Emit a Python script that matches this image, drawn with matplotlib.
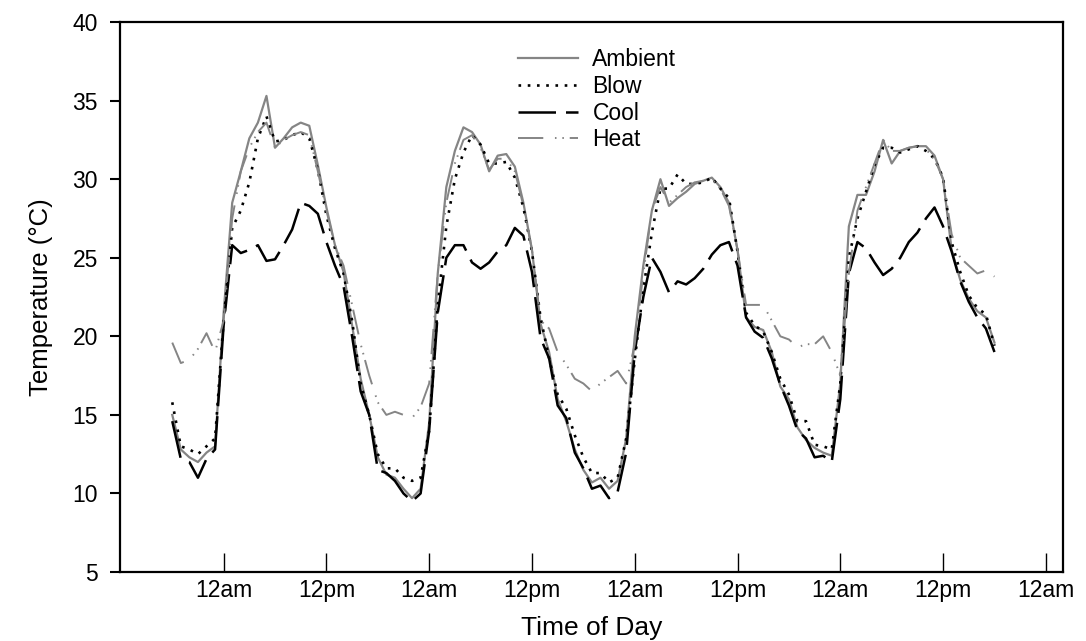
import numpy as np
import matplotlib
matplotlib.use('Agg')
import matplotlib.pyplot as plt

plt.rcParams['font.family'] = ['Liberation Sans', 'DejaVu Sans']

# hours relative to the first midnight, one reading per hour
hours = list(range(-6, 91))

ambient = [
    15.0, 12.8, 12.3, 12.0, 12.6, 13.0,
    21.5, 28.5, 30.5, 32.6, 33.6, 35.3, 32.0, 32.6, 33.3, 33.6, 33.4, 30.9,
    28.2, 25.8, 24.1, 20.7, 17.3, 15.0, 12.3, 11.2, 11.0, 10.3, 9.7, 10.3,
    14.5, 24.0, 29.5, 31.8, 33.3, 33.0, 32.2, 30.5, 31.5, 31.6, 30.8, 28.5,
    25.5, 20.8, 19.0, 16.0, 14.6, 12.8, 11.5, 10.7, 11.0, 10.3, 10.8, 13.5,
    20.0, 24.5, 28.0, 30.0, 28.3, 28.8, 29.2, 29.7, 29.9, 30.1, 29.5, 28.5,
    25.5, 21.2, 20.6, 20.4, 19.0, 16.8, 16.0, 14.2, 13.4, 12.9, 12.6, 12.4,
    17.0, 27.0, 29.0, 29.0, 30.5, 32.5, 31.0, 31.8, 32.0, 32.1, 32.1, 31.5,
    30.0, 25.5, 23.6, 22.4, 21.6, 21.2, 19.6,
]

blow = [
    15.8, 13.0, 12.8, 12.5, 13.0, 13.5,
    21.0, 26.9, 28.0, 29.8, 32.6, 34.0, 32.4, 32.5, 32.8, 33.0, 32.6, 30.6,
    27.7, 25.6, 24.0, 21.0, 17.0, 15.0, 12.5, 11.6, 11.6, 11.0, 10.8, 11.0,
    14.0, 22.0, 27.0, 30.0, 31.7, 32.8, 32.2, 31.0, 31.0, 31.1, 30.1, 28.2,
    25.4, 21.2, 18.6, 16.3, 15.4, 13.7, 12.3, 11.3, 11.3, 10.7, 11.0, 13.5,
    18.5, 23.0, 26.6, 29.4, 29.4, 30.3, 29.7, 29.7, 29.8, 30.1, 29.4, 28.8,
    25.4, 21.5, 20.7, 20.3, 19.0, 17.3, 16.3, 14.6, 14.6, 13.1, 13.0, 12.8,
    17.0, 25.0, 27.5, 29.2, 30.9, 32.0, 32.0, 31.7, 31.9, 32.1, 31.8, 31.3,
    30.1, 26.0, 24.1, 22.6, 21.8, 21.4, 19.4,
]

cool = [
    14.6, 12.2, 12.0, 11.0, 12.2, 12.8,
    20.7, 25.8, 25.3, 25.5, 25.8, 24.8, 24.9, 25.8, 26.8, 28.5, 28.3, 27.8,
    26.0, 24.5, 23.2, 20.0, 16.5, 15.0, 11.5, 11.3, 10.8, 10.0, 9.5, 10.0,
    14.0, 21.5, 25.0, 25.8, 25.8, 24.7, 24.3, 24.7, 25.4, 25.8, 26.9, 26.4,
    24.1, 19.9, 18.6, 15.6, 14.8, 12.6, 11.6, 10.3, 10.5, 9.7, 10.1, 12.6,
    19.0, 22.5, 25.0, 24.1, 22.8, 23.5, 23.3, 23.7, 24.3, 25.2, 25.8, 26.0,
    24.5, 21.2, 20.3, 19.9, 18.6, 16.9, 15.6, 14.0, 13.5, 12.3, 12.4, 12.0,
    16.0, 24.0, 26.0, 25.6, 24.7, 23.9, 24.3, 25.0, 26.0, 26.6, 27.5, 28.2,
    27.0, 25.4, 23.5, 22.2, 21.2, 20.5, 19.0,
]

heat = [
    19.6, 18.3, 18.5, 19.2, 20.2, 19.0,
    21.0, 27.5, 30.5, 32.0, 33.0, 33.6, 32.0, 32.5, 32.8, 33.0, 32.8, 30.5,
    28.0, 25.8, 24.5, 22.0, 19.5, 17.5, 15.8, 15.0, 15.2, 15.0, 14.8, 15.5,
    17.0, 24.0, 28.5, 31.0, 32.5, 32.8, 32.0, 30.6, 31.3, 31.3, 30.5, 28.3,
    25.5, 21.0, 20.5, 19.0, 18.2, 17.3, 17.0, 16.5, 17.0, 17.4, 17.8, 17.0,
    19.5, 24.0, 28.0, 29.5, 28.5, 29.0, 29.5, 29.8, 29.9, 30.0, 29.4, 28.3,
    25.5, 22.0, 22.0, 22.0, 21.0, 20.0, 19.8, 19.3, 19.5, 19.5, 20.0, 19.0,
    17.5, 24.0, 28.0, 29.5, 31.0, 32.5, 31.8, 31.8, 32.0, 32.1, 31.9, 31.3,
    30.0, 26.5, 25.0, 24.5, 24.0, 24.2, 23.8,
]

tick_hours = list(range(0, 97, 12))
tick_labels = ['12am', '12pm'] * 4 + ['12am']
y_ticks = [5, 10, 15, 20, 25, 30, 35, 40]

gray = '#858585'

fig = plt.figure(figsize=(10.86, 6.41), dpi=100)
ax = fig.add_axes([0.1105, 0.1076, 0.8683, 0.858])

ax.plot(hours, ambient, color=gray, lw=1.6, label='Ambient')
ax.plot(hours, blow, color='black', lw=1.9, linestyle=(0, (1, 2.5)), label='Blow')
ax.plot(hours, cool, color='black', lw=1.8, linestyle=(0, (15, 4)), label='Cool')
ax.plot(hours, heat, color=gray, lw=1.4, linestyle=(0, (13, 6, 0.8, 3, 0.8, 3)), label='Heat')

ax.set_xlim(-12.1, 98.0)
ax.set_ylim(5, 40)
ax.set_xticks(tick_hours)
ax.set_xticklabels(tick_labels)
ax.set_yticks(y_ticks)

ax.tick_params(axis='x', direction='in', length=14, width=1, labelsize=16.5, pad=5)
ax.tick_params(axis='y', direction='out', length=7, width=1.5, labelsize=16.5, pad=9)
for s in ax.spines.values():
    s.set_linewidth(1.6)

ax.set_xlabel('Time of Day', fontsize=19, labelpad=10)
ax.set_ylabel('Temperature (°C)', fontsize=18.5, labelpad=14)

ax.legend(loc='upper left', bbox_to_anchor=(0.422, 0.952), frameon=False,
          fontsize=16.5, handlelength=2.6, handletextpad=0.65, labelspacing=0.16,
          borderpad=0, borderaxespad=0)

fig.savefig('out.png', dpi=100)
